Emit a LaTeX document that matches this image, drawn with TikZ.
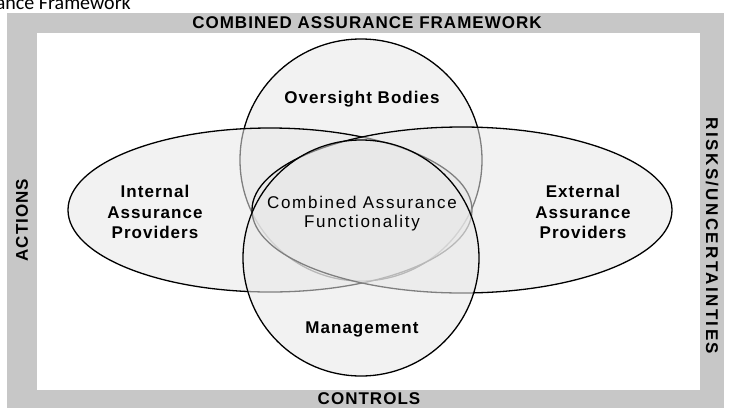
\documentclass[tikz,border=0pt]{standalone}
\usepackage{fontspec}
\setmainfont{Liberation Sans}
\newfontfamily\lblfont[LetterSpace=6]{Liberation Sans}
\newfontfamily\midfont[LetterSpace=10]{Liberation Sans}
\newfontfamily\capfont{Carlito}
\begin{document}
\begin{tikzpicture}[x=1pt,y=-1pt,
  band/.style={fill=black!22},
  setshape/.style={draw=black,line width=1.3pt,fill=black!9,fill opacity=0.55,draw opacity=1},
  lbl/.style={font=\lblfont\fontsize{17}{20.5}\selectfont\bfseries,align=center,inner sep=0pt},
  midlbl/.style={font=\midfont\fontsize{17}{19}\selectfont,align=center,inner sep=0pt},
  framelbl/.style={font=\lblfont\fontsize{17}{19}\selectfont\bfseries,inner sep=0pt},
]
\useasboundingbox (0,0) rectangle (729,408);
% frame band
\fill[band] (7,13) rectangle (724,408);
\fill[white] (37,33) rectangle (700,390);
% caption fragment
\node[font=\capfont\fontsize{20}{22}\selectfont,anchor=base east,inner sep=0pt] (cap) at (131,9) {ance Framework};
% sets
\path[setshape] (361,160) circle[radius=121];
\path[setshape] (270,210) ellipse[x radius=202,y radius=82];
\path[setshape] (462,210) ellipse[x radius=210,y radius=83];
\path[setshape] (361,258) circle[radius=118];
% labels
\node[lbl,anchor=base] (ovs) at (362,103) {Oversight Bodies};
\node[lbl] (int) at (155,212) {Internal\\Assurance\\Providers};
\node[lbl] (ext) at (583,212) {External\\Assurance\\Providers};
\node[midlbl] (cmb) at (362,214) {Combined Assurance\\Functionality};
\node[lbl,anchor=base] (mgt) at (362,333) {Management};
% frame labels
\node[framelbl,anchor=base] (ttl) at (367,28) {COMBINED ASSURANCE FRAMEWORK};
\node[framelbl,anchor=base] (ctl) at (369,404) {CONTROLS};
\node[framelbl,rotate=90] (act) at (22,220) {ACTIONS};
\node[framelbl,rotate=-90,font=\fontsize{17}{19}\selectfont\bfseries\addfontfeature{LetterSpace=14}] (rsk) at (712,236) {RISKS/UNCERTAINTIES};
\end{tikzpicture}
\end{document}
